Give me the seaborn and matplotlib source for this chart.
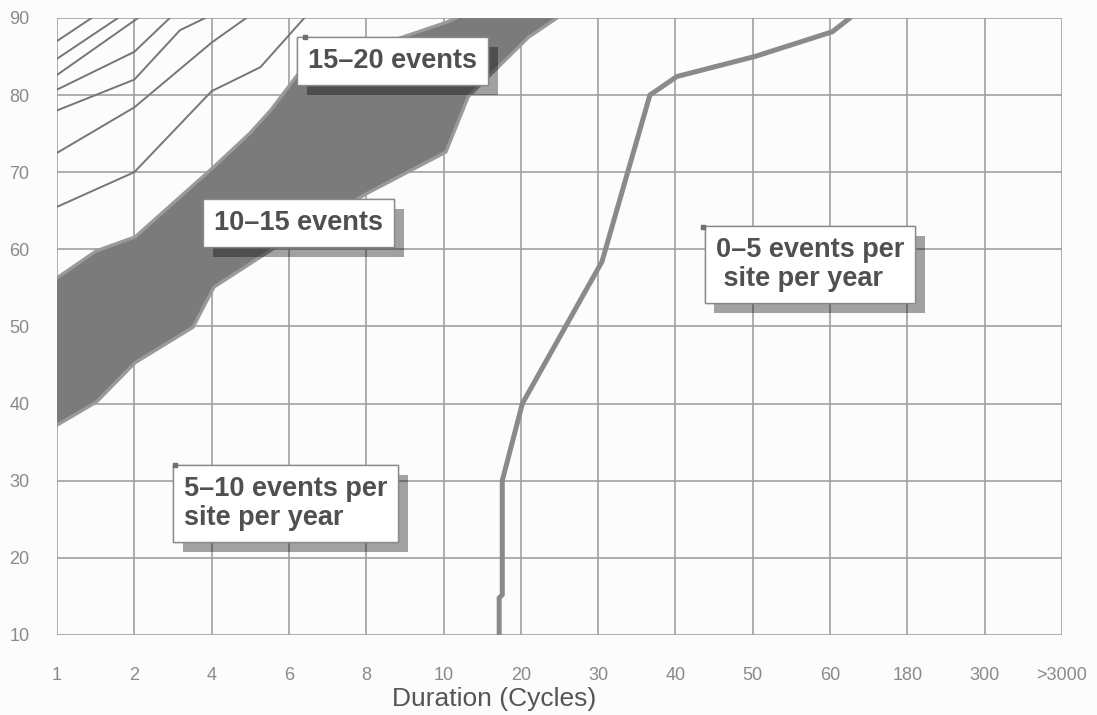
import numpy as np
import pandas as pd
import seaborn as sns
import matplotlib.pyplot as plt
import matplotlib.patheffects as pe

# categories on the x axis (evenly spaced)
durations = ["1", "2", "4", "6", "8", "10", "20", "30", "40", "50", "60", "180", "300", ">3000"]
y_ticks = [10, 20, 30, 40, 50, 60, 70, 80, 90]

# 10-15 events band (x = position along the duration axis)
band_upper_x = [0, 0.51, 1.01, 2.03, 2.5, 2.77, 3.14, 4.44, 5.03, 5.17]
band_upper_y = [56.3, 59.8, 61.6, 70.7, 75.1, 78.1, 83.0, 87.4, 89.4, 90]
band_lower_x = [0, 0.51, 1.01, 1.76, 2.03, 2.77, 4.02, 5.03, 5.32, 6.1, 6.47]
band_lower_y = [37.2, 40.2, 45.3, 49.9, 55.1, 59.9, 67.3, 72.6, 79.8, 87.5, 90]

# boundary between 0-5 and 5-10 events
low_x = [5.72, 5.72, 5.76, 5.76, 6.02, 7.05, 7.67, 8.02, 9.03, 10.03, 10.26]
low_y = [10, 14.8, 15.2, 30, 40, 58.4, 80, 82.4, 85, 88.2, 90]

# thin contour lines in the top-left corner (20+ events)
thin_x = [[0, 0.45], [0, 0.79], [0, 1.05], [0, 1, 1.46], [0, 1, 1.59, 1.92],
          [0, 1, 2, 2.45], [0, 1, 2, 2.63, 3.2]]
thin_y = [[87.0, 90], [84.7, 90], [82.6, 90], [80.7, 85.6, 90], [78.0, 82.0, 88.4, 90],
          [72.5, 78.4, 86.8, 90], [65.5, 70.0, 80.5, 83.6, 90]]

# region labels
labels = ["15\u201320 events", "10\u201315 events",
          "0\u20135 events per\n site per year", "5\u201310 events per\nsite per year"]
label_x = [3.25, 2.03, 8.52, 1.64]
label_y = [84.4, 63.4, 58.0, 27.0]
anchor_x = [3.21, 8.36, 1.53]
anchor_y = [87.5, 62.9, 32.0]

thin_df = pd.DataFrame({
    "x": np.concatenate(thin_x),
    "y": np.concatenate(thin_y),
    "line": np.concatenate([[i] * len(xs) for i, xs in enumerate(thin_x)]),
})

sns.set_style("white")
plt.rcParams["font.family"] = ["Liberation Sans", "DejaVu Sans"]

fig = plt.figure(figsize=(10.97, 7.15), dpi=100)
fig.patch.set_facecolor("#fcfcfc")
ax = fig.add_axes([0.052, 0.112, 0.916, 0.863])
ax.set_facecolor("#fcfcfc")

# band
poly_x = band_upper_x + band_lower_x[::-1]
poly_y = band_upper_y + band_lower_y[::-1]
ax.fill(poly_x, poly_y, color="#7b7b7b", lw=0, zorder=2)
sns.lineplot(x=band_upper_x, y=band_upper_y, sort=False, estimator=None,
             color="#9a9a9a", lw=2.4, ax=ax, zorder=3)
sns.lineplot(x=band_lower_x, y=band_lower_y, sort=False, estimator=None,
             color="#9a9a9a", lw=2.4, ax=ax, zorder=3)

# thin lines
sns.lineplot(data=thin_df, x="x", y="y", units="line", estimator=None, sort=False,
             color="#767676", lw=1.4, ax=ax, zorder=3)

# 0-5 boundary
sns.lineplot(x=low_x, y=low_y, sort=False, estimator=None,
             color="#8a8a8a", lw=3.6, ax=ax, zorder=3)

# labels with drop shadow
for t, lx, ly in zip(labels, label_x, label_y):
    txt = ax.text(lx, ly, t, ha="left", va="center", fontsize=19.5,
                  fontweight="bold", color="#505050", linespacing=1.15, zorder=6,
                  bbox=dict(boxstyle="square,pad=0.4", fc="white",
                            ec="#8a8a8a", lw=1.0))
    txt.get_bbox_patch().set_path_effects([
        pe.withSimplePatchShadow(offset=(7, -7), shadow_rgbFace="black", alpha=0.36),
        pe.Normal(),
    ])
ax.scatter(anchor_x, anchor_y, marker="s", s=9, color="#707070", zorder=7)

ax.set_xlim(0, 13)
ax.set_ylim(10, 90)
ax.set_xticks(range(len(durations)))
ax.set_xticklabels(durations)
ax.set_yticks(y_ticks)
ax.grid(True, color="#a0a0a0", lw=1.2, zorder=1)
ax.set_axisbelow(True)
for s in ax.spines.values():
    s.set_visible(False)
ax.tick_params(axis="x", length=14, width=1.2, color="#a0a0a0", pad=9,
               labelsize=13, labelcolor="#8a8a8a")
ax.tick_params(axis="y", length=14, width=1.2, color="#a0a0a0", pad=6,
               labelsize=13, labelcolor="#8a8a8a")
ax.set_xlabel("Duration (Cycles)", fontsize=19, color="#555555")
ax.xaxis.set_label_coords(0.435, -0.085)
ax.set_ylabel("")

fig.savefig("out.png", dpi=100, facecolor=fig.get_facecolor())
